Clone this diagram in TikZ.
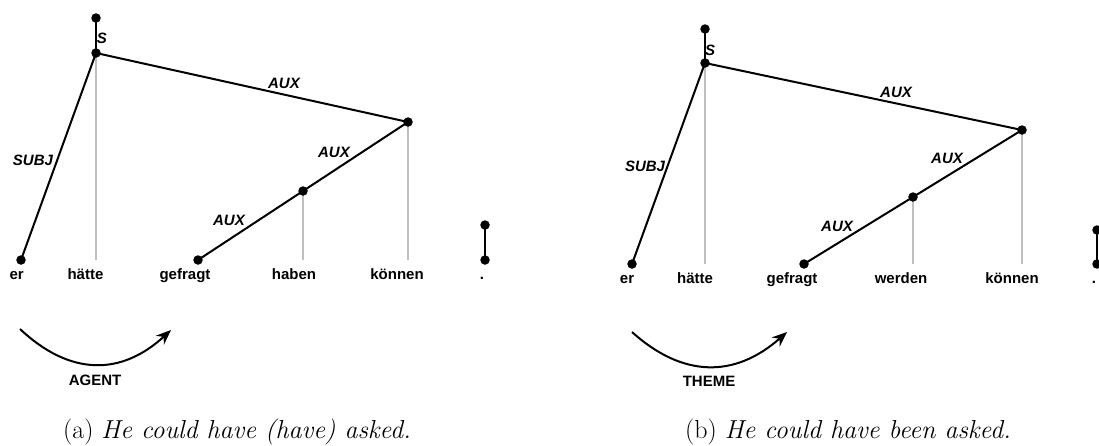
\documentclass[tikz,border=0pt]{standalone}
\usepackage{fontspec}
\newfontfamily\arial{Liberation Sans}
\usetikzlibrary{arrows.meta}
\begin{document}
\begin{tikzpicture}[x=1pt,y=-1pt,
  dot/.style={circle,fill=black,inner sep=0pt,minimum size=9.5pt},
  word/.style={font=\arial\bfseries\fontsize{15}{18}\selectfont,anchor=base,inner sep=0pt},
  rel/.style={font=\arial\bfseries\itshape\fontsize{15}{18}\selectfont,inner sep=0pt},
  role/.style={font=\arial\bfseries\fontsize{15}{18}\selectfont,inner sep=0pt},
  edgeline/.style={line width=2pt,draw=black},
  proj/.style={line width=2pt,draw=black!25},
  roleline/.style={line width=2pt,-{Stealth[length=15pt,width=12pt]}},
  captext/.style={font=\fontsize{26}{30}\selectfont,anchor=base,inner sep=0pt}]
\useasboundingbox (0,0) rectangle (1099,445);
% ---------- panel (a)
\coordinate (aTop) at (96,18);
\coordinate (aS) at (96,53);
\coordinate (aEr) at (21,260);
\coordinate (aGef) at (198,260);
\coordinate (aHab) at (303,191);
\coordinate (aKon) at (408,122);
\coordinate (aHaetteB) at (96,260);
\coordinate (aHabB) at (303,260);
\coordinate (aKonB) at (408,260);
\coordinate (aP1) at (485,225);
\coordinate (aP2) at (485,260);
\draw[proj] (aS) -- (aHaetteB);
\draw[proj] (aHab) -- (aHabB);
\draw[proj] (aKon) -- (aKonB);
\draw[edgeline] (aTop) -- (aS);
\draw[edgeline] (aS) -- (aEr);
\draw[edgeline] (aS) -- (aKon);
\draw[edgeline] (aKon) -- (aHab);
\draw[edgeline] (aHab) -- (aGef);
\draw[edgeline] (aP1) -- (aP2);
\foreach \p in {aTop,aS,aEr,aGef,aHab,aKon,aP1,aP2} \node[dot] (\p-dot) at (\p) {};
\node[word] (aw1) at (16.7,279) {er};
\node[word] (aw2) at (85.5,279) {hätte};
\node[word] (aw3) at (185,279) {gefragt};
\node[word] (aw4) at (294,279) {haben};
\node[word] (aw5) at (397,279) {können};
\node[word] (aw6) at (482,279) {.};
\node[rel] (aLS) at (102,38) {S};
\node[rel] (aLSubj) at (33,160) {SUBJ};
\node[rel] (aLA1) at (284,83) {AUX};
\node[rel] (aLA2) at (334,152) {AUX};
\node[rel] (aLA3) at (229,220) {AUX};
\coordinate (aR1) at (20,329);
\coordinate (aR2) at (171,330);
\draw[roleline] (aR1) .. controls (70,376) and (121,376) .. (aR2);
\node[role] (aRole) at (95,380) {AGENT};
\node[captext] (aCap) at (237,438) {(a) \textit{He could have (have) asked.}};
% ---------- panel (b)
\coordinate (bTop) at (705,29);
\coordinate (bS) at (705,63);
\coordinate (bEr) at (632,264);
\coordinate (bGef) at (804,264);
\coordinate (bWer) at (913,197);
\coordinate (bKon) at (1022,130);
\coordinate (bHaetteB) at (705,264);
\coordinate (bWerB) at (913,264);
\coordinate (bKonB) at (1022,264);
\coordinate (bP1) at (1097,230);
\coordinate (bP2) at (1097,264);
\draw[proj] (bS) -- (bHaetteB);
\draw[proj] (bWer) -- (bWerB);
\draw[proj] (bKon) -- (bKonB);
\draw[edgeline] (bTop) -- (bS);
\draw[edgeline] (bS) -- (bEr);
\draw[edgeline] (bS) -- (bKon);
\draw[edgeline] (bKon) -- (bWer);
\draw[edgeline] (bWer) -- (bGef);
\draw[edgeline] (bP1) -- (bP2);
\foreach \p in {bTop,bS,bEr,bGef,bWer,bKon,bP1,bP2} \node[dot] (\p-dot) at (\p) {};
\node[word] (bw1) at (627,283) {er};
\node[word] (bw2) at (695,283) {hätte};
\node[word] (bw3) at (792,283) {gefragt};
\node[word] (bw4) at (901,283) {werden};
\node[word] (bw5) at (1012,283) {können};
\node[word] (bw6) at (1094,283) {.};
\node[rel] (bLS) at (710,50) {S};
\node[rel] (bLSubj) at (645,166) {SUBJ};
\node[rel] (bLA1) at (896,92) {AUX};
\node[rel] (bLA2) at (947,158) {AUX};
\node[rel] (bLA3) at (837,226) {AUX};
\coordinate (bR1) at (632,332);
\coordinate (bR2) at (787,332);
\draw[roleline] (bR1) .. controls (683,378) and (735,378) .. (bR2);
\node[role] (bRole) at (709,381) {THEME};
\node[captext] (bCap) at (848,438) {(b) \textit{He could have been asked.}};
\end{tikzpicture}
\end{document}
